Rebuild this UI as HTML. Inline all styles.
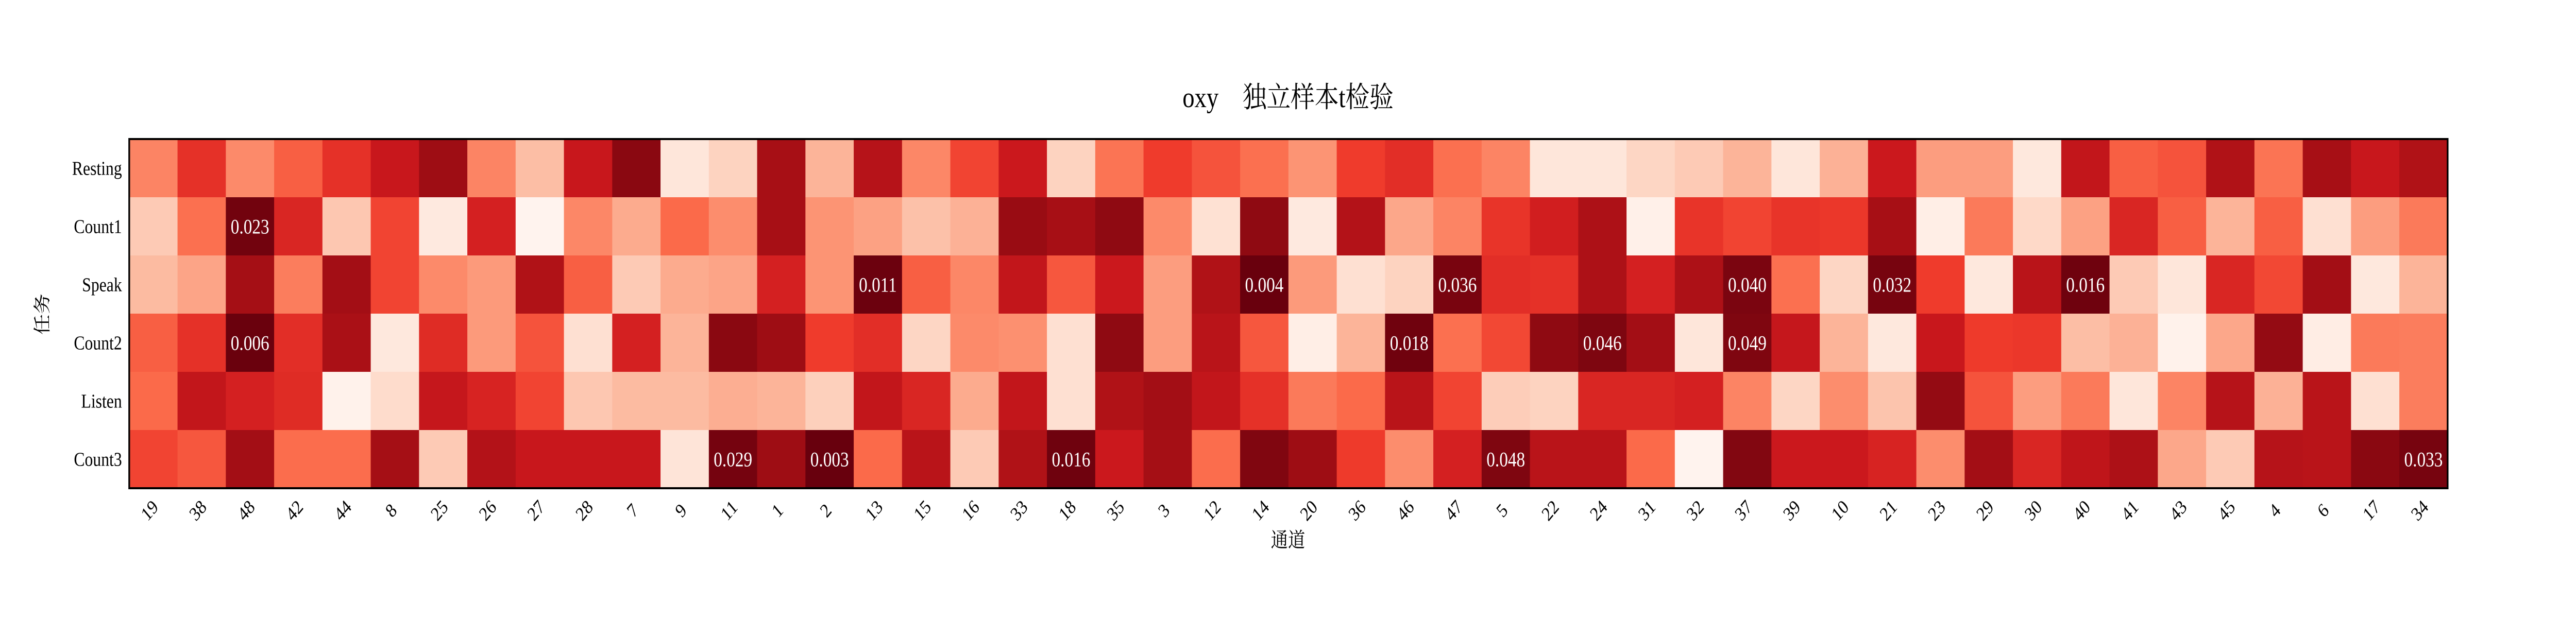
<!DOCTYPE html>
<html><head><meta charset="utf-8">
<style>
html,body{margin:0;padding:0;background:#fff;overflow:hidden;width:100vw;height:100vh;}
svg{display:block;width:100vw;height:100vh;}
text{font-family:"Liberation Serif","Noto Serif CJK SC",serif;}
</style></head>
<body>
<svg id="chart" viewBox="0 0 6000 1200" preserveAspectRatio="none" xmlns="http://www.w3.org/2000/svg">
  <rect x="0" y="0" width="6000" height="1200" fill="#fff"/>
  <text x="3000" y="208" font-size="56" text-anchor="middle">oxy　独立样本t检验</text>
  <text x="3000" y="1062" font-size="40" text-anchor="middle">通道</text>
  <text x="0" y="0" font-size="40" text-anchor="middle" transform="translate(112,610) rotate(-90)">任务</text>
  <g id="cells"></g>
  <g id="xticks"></g>
  <g id="yticks"></g>
  <rect x="301" y="270" width="5400" height="678" fill="none" stroke="#000" stroke-width="4"/>
</svg>
<script>
const channels = ["19","38","48","42","44","8","25","26","27","28","7","9","11","1","2","13","15","16","33","18","35","3","12","14","20","36","46","47","5","22","24","31","32","37","39","10","21","23","29","30","40","41","43","45","4","6","17","34"];
const tasks = ["Resting","Count1","Speak","Count2","Listen","Count3"];
// p-values per task (rows) across channels (cols)
const pResting = [0.58,0.34,0.60,0.47,0.34,0.24,0.11,0.58,0.76,0.24,0.07,0.91,0.83,0.13,0.73,0.18,0.59,0.40,0.25,0.83,0.53,0.375,0.44,0.52,0.63,0.375,0.33,0.52,0.58,0.91,0.91,0.84,0.80,0.73,0.91,0.72,0.25,0.66,0.66,0.92,0.22,0.47,0.44,0.16,0.53,0.13,0.24,0.16];
const pCount1 = [0.80,0.52,0.023,0.30,0.79,0.40,0.93,0.28,0.99,0.59,0.70,0.50,0.61,0.13,0.63,0.67,0.77,0.72,0.10,0.13,0.08,0.60,0.88,0.08,0.93,0.17,0.69,0.58,0.35,0.27,0.15,0.97,0.35,0.40,0.35,0.36,0.13,0.96,0.55,0.85,0.67,0.30,0.47,0.73,0.47,0.875,0.66,0.55];
const pSpeak = [0.75,0.68,0.125,0.56,0.12,0.40,0.60,0.65,0.16,0.47,0.80,0.70,0.68,0.28,0.63,0.011,0.47,0.59,0.22,0.45,0.25,0.66,0.16,0.004,0.65,0.875,0.83,0.036,0.33,0.34,0.15,0.28,0.15,0.040,0.52,0.84,0.032,0.375,0.92,0.19,0.016,0.80,0.91,0.30,0.41,0.12,0.92,0.73];
const pCount2 = [0.47,0.34,0.006,0.33,0.14,0.92,0.32,0.65,0.44,0.875,0.28,0.73,0.07,0.11,0.375,0.33,0.84,0.60,0.62,0.875,0.08,0.66,0.19,0.45,0.96,0.73,0.018,0.52,0.41,0.08,0.046,0.12,0.91,0.049,0.23,0.73,0.92,0.24,0.37,0.36,0.76,0.72,0.98,0.69,0.09,0.95,0.55,0.56];
const pListen = [0.50,0.22,0.28,0.32,0.98,0.86,0.23,0.29,0.40,0.79,0.75,0.75,0.71,0.73,0.82,0.22,0.30,0.70,0.22,0.875,0.16,0.12,0.22,0.34,0.55,0.50,0.19,0.40,0.81,0.83,0.30,0.30,0.28,0.58,0.84,0.61,0.78,0.09,0.44,0.66,0.55,0.91,0.58,0.18,0.72,0.19,0.875,0.56];
const pCount3 = [0.40,0.45,0.12,0.51,0.51,0.125,0.80,0.17,0.24,0.24,0.24,0.90,0.029,0.11,0.003,0.50,0.19,0.80,0.16,0.016,0.25,0.125,0.51,0.05,0.11,0.37,0.61,0.28,0.048,0.19,0.19,0.50,0.99,0.055,0.25,0.25,0.29,0.61,0.12,0.30,0.21,0.15,0.69,0.80,0.18,0.19,0.07,0.033];
const pRows = [pResting,pCount1,pSpeak,pCount2,pListen,pCount3];

const NS = "http://www.w3.org/2000/svg";
const X0 = 301, Y0 = 270, W = 5400, H = 678;
const cw = W / channels.length, ch = H / tasks.length;
const xScale = i => X0 + i * cw;
const yScale = j => Y0 + j * ch;
const stops = ["#fff5f0","#fee0d2","#fcbba1","#fc9272","#fb6a4a","#ef3b2c","#cb181d","#a50f15","#67000d"];
function hex(c){return [1,3,5].map(k=>parseInt(c.substr(k,2),16));}
function reds(t){
  t=Math.max(0,Math.min(1,t));
  const f=t*(stops.length-1), i=Math.min(stops.length-2,Math.floor(f)), r=f-i;
  const a=hex(stops[i]), b=hex(stops[i+1]);
  return "rgb("+a.map((v,k)=>Math.round(v+(b[k]-v)*r)).join(",")+")";
}
const cells = document.getElementById("cells");
pRows.forEach((row,j)=>{
  row.forEach((p,i)=>{
    const r=document.createElementNS(NS,"rect");
    r.setAttribute("x",xScale(i)); r.setAttribute("y",yScale(j));
    r.setAttribute("width",cw+0.5); r.setAttribute("height",ch+0.5);
    r.setAttribute("fill",reds(1-p));
    
    
    cells.appendChild(r);
    if(p<0.05){
      const t=document.createElementNS(NS,"text");
      t.setAttribute("x",xScale(i)+cw/2); t.setAttribute("y",yScale(j)+ch/2+14);
      t.setAttribute("font-size","40"); t.setAttribute("fill","#fff");
      t.setAttribute("text-anchor","middle");
      t.textContent=p.toFixed(3);
      
      
      cells.appendChild(t);
    }
  });
});
const xt=document.getElementById("xticks");
channels.forEach((c,i)=>{
  const cx=xScale(i)+cw/2;
  const t=document.createElementNS(NS,"text");
  t.setAttribute("font-size","38"); t.setAttribute("text-anchor","middle");
  t.setAttribute("transform","translate("+cx+",1000) rotate(-45)");
  t.textContent=c;
  
  
  xt.appendChild(t);
});
const yt=document.getElementById("yticks");
tasks.forEach((s,j)=>{
  const t=document.createElementNS(NS,"text");
  t.setAttribute("x",284); t.setAttribute("y",yScale(j)+ch/2+13);
  t.setAttribute("font-size","38"); t.setAttribute("text-anchor","end");
  t.textContent=s;
  
  
  yt.appendChild(t);
});
</script>
</body></html>
